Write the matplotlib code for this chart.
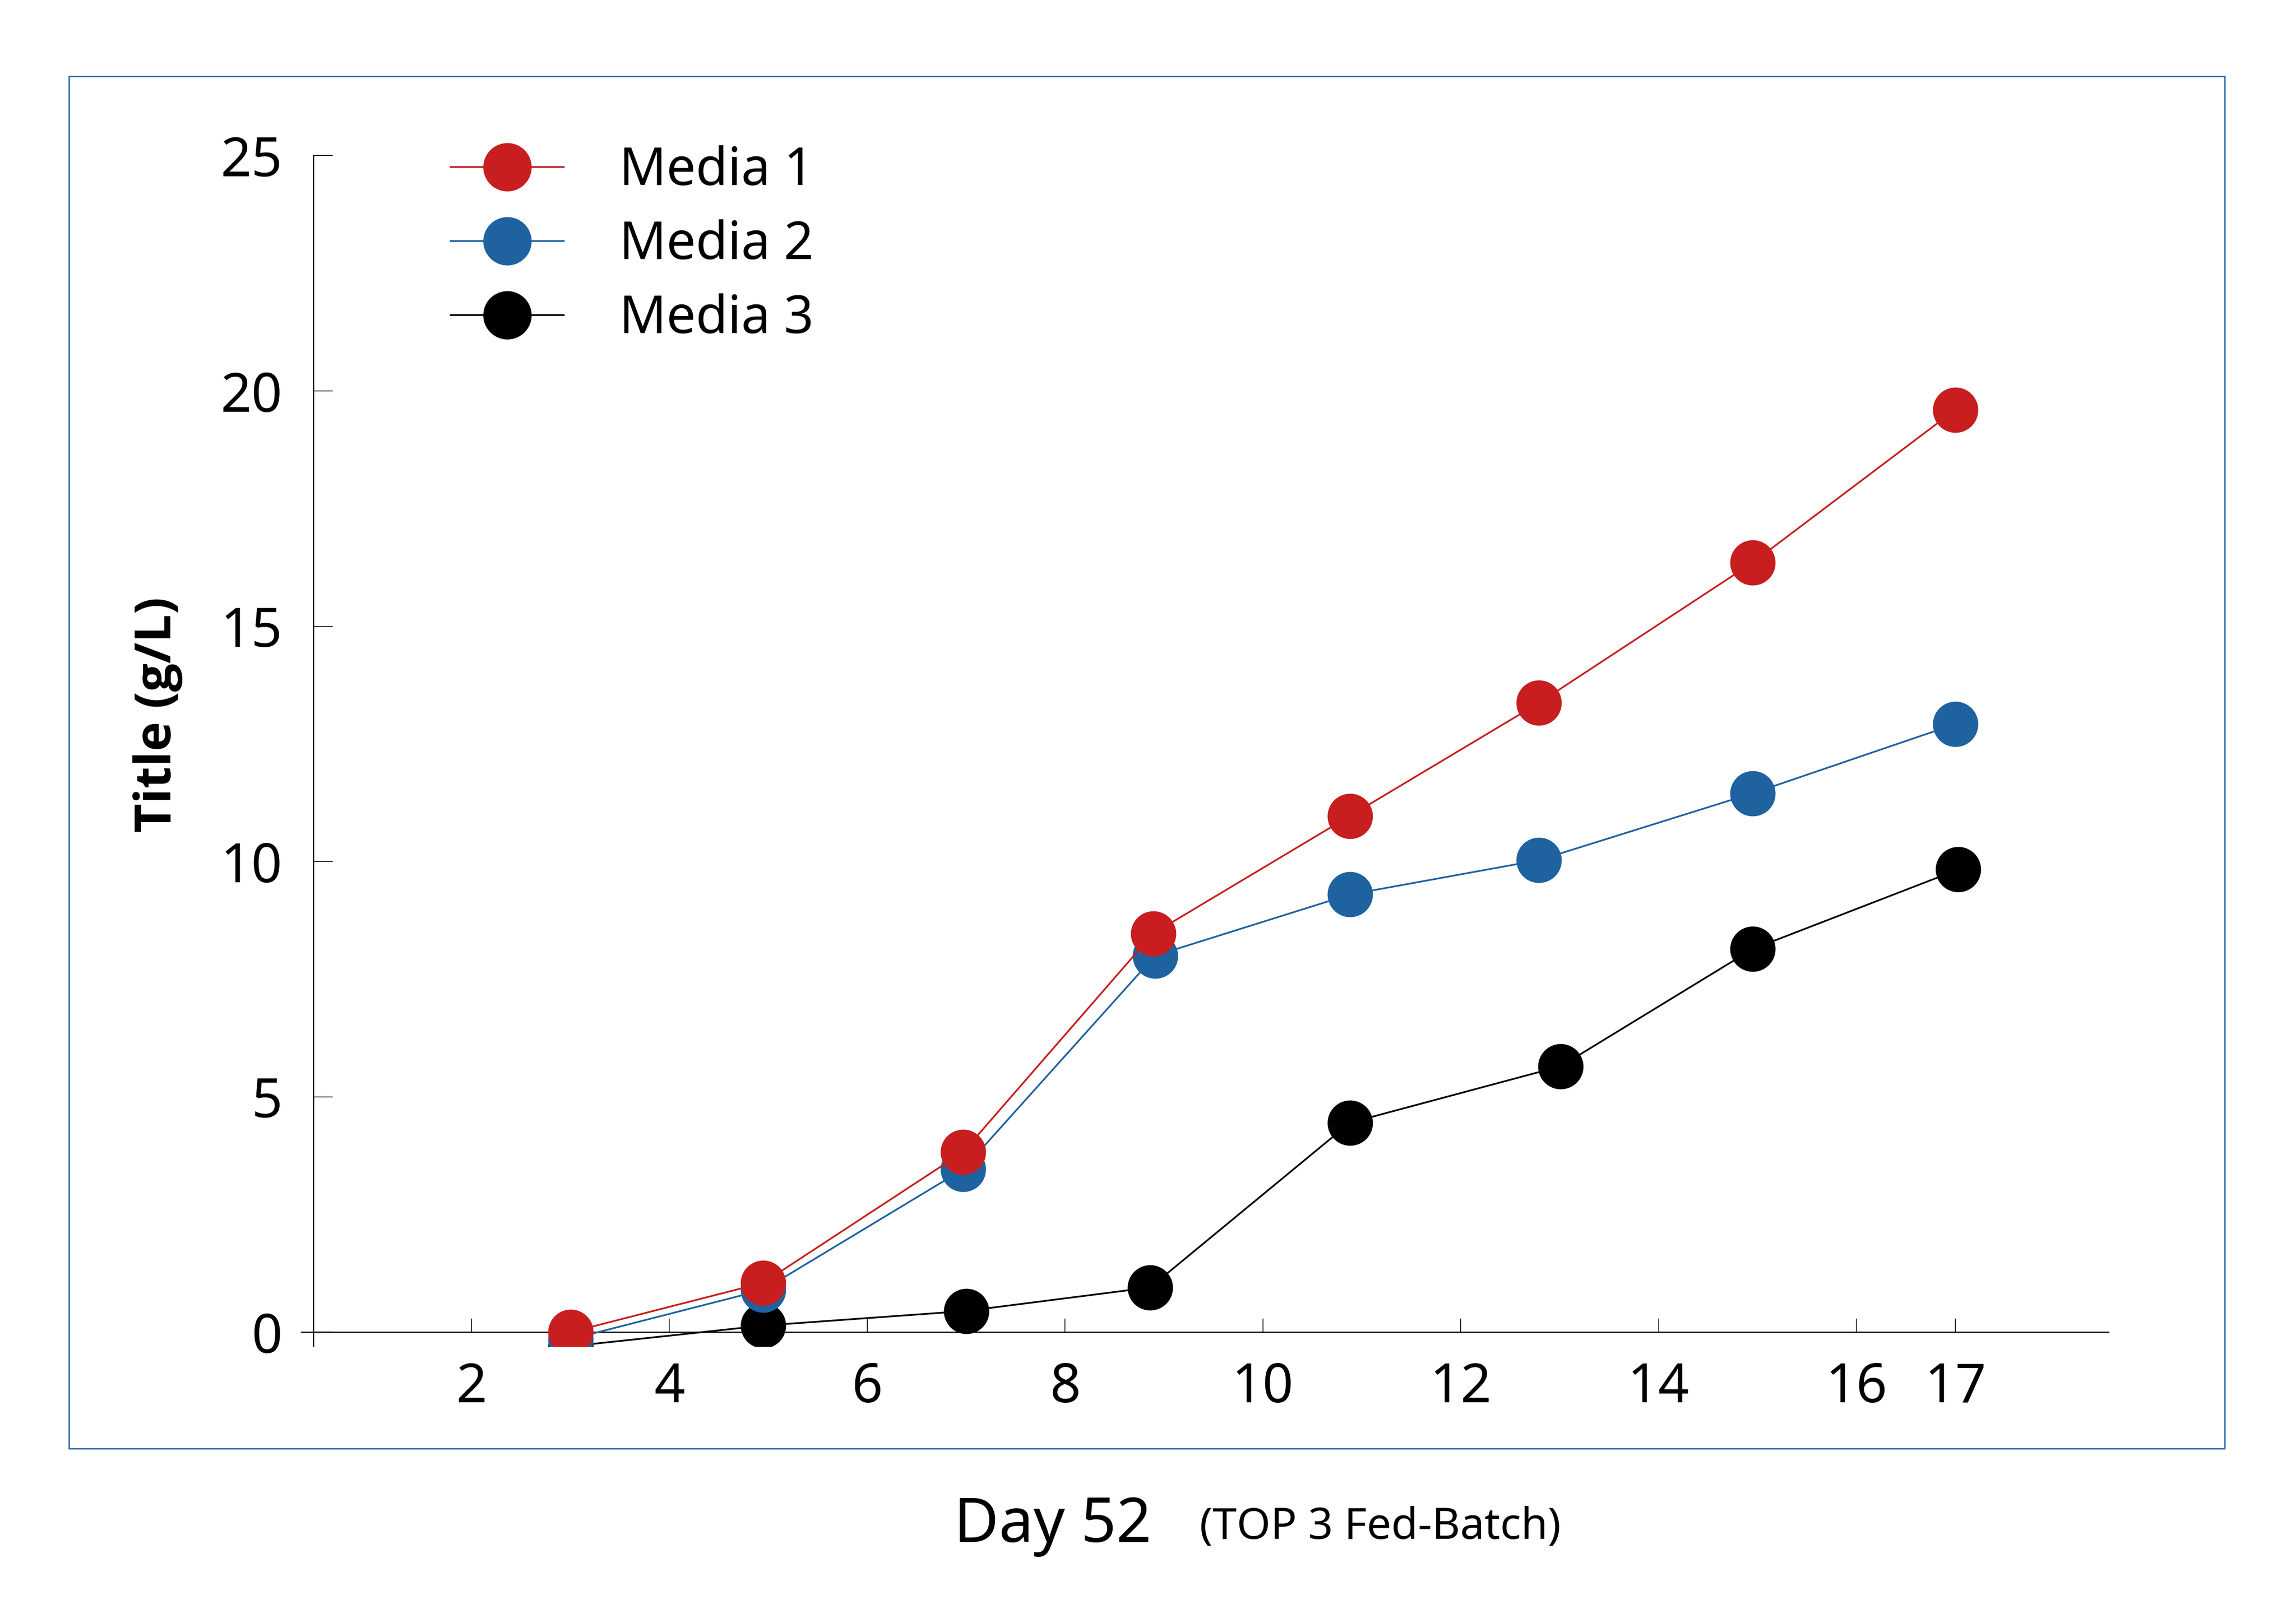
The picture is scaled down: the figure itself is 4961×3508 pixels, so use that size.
import matplotlib
matplotlib.use('Agg')
import matplotlib.pyplot as plt
from matplotlib.patches import Rectangle

plt.rcParams['font.family'] = ['Noto Sans', 'DejaVu Sans']

# data
days_1 = [3.0, 4.95, 6.97, 8.89, 10.88, 12.79, 14.95, 17.0]
media_1 = [0.0, 1.05, 3.83, 8.47, 10.97, 13.37, 16.35, 19.6]
days_2 = [3.0, 4.95, 6.97, 8.91, 10.88, 12.79, 14.95, 17.0]
media_2 = [-0.15, 0.9, 3.46, 8.0, 9.3, 10.03, 11.45, 12.92]
days_3 = [3.0, 4.95, 7.0, 8.86, 10.88, 13.01, 14.95, 17.03]
media_3 = [-0.3, 0.14, 0.45, 0.95, 4.45, 5.65, 8.14, 9.83]

x_ticks = [2, 4, 6, 8, 10, 12, 14, 16, 17]
y_ticks = [0, 5, 10, 15, 20, 25]

red = '#c81e1f'
blue = '#1f62a0'

fig = plt.figure(figsize=(4961 / 300, 3508 / 300), dpi=300)

# blue frame around the plot
fig.patches.append(Rectangle((0.030, 0.1075), 0.939, 0.8455, transform=fig.transFigure,
                             fill=False, edgecolor='#2a6aad', linewidth=0.7))

ax = fig.add_axes([0.1313, 0.1705, 0.7871, 0.7336])
ax.set_xlim(0.28, 18.55)
ax.set_ylim(-0.3, 25)

ax.plot(days_3, media_3, color='black', lw=0.9, marker='o', ms=22.5, label='Media 3', zorder=3)
ax.plot(days_2, media_2, color=blue, lw=0.9, marker='o', ms=22.5, label='Media 2', zorder=4)
ax.plot(days_1, media_1, color=red, lw=0.9, marker='o', ms=22.5, label='Media 1', zorder=5)

ax.spines['top'].set_visible(False)
ax.spines['right'].set_visible(False)
ax.spines['left'].set_position(('data', 0.40))
ax.spines['bottom'].set_position(('data', 0))
for s in ['left', 'bottom']:
    ax.spines[s].set_linewidth(0.6)

ax.set_xticks(x_ticks)
ax.set_xticklabels([str(t) for t in x_ticks])
ax.set_yticks(y_ticks)
ax.tick_params(axis='x', direction='in', length=7, width=0.4, pad=15, labelsize=28)
ax.tick_params(axis='y', direction='in', length=10, width=0.4, pad=16, labelsize=28)

h, l = ax.get_legend_handles_labels()
leg = ax.legend(h[::-1], l[::-1], loc='upper left', bbox_to_anchor=(0.1963, 0.9105),
                bbox_transform=fig.transFigure, frameon=False, fontsize=27,
                borderpad=0, borderaxespad=0, handlelength=2.17, handletextpad=1.07,
                labelspacing=0.42, markerscale=1.07)

fig.text(0.0688, 0.5596, 'Title (g/L)', rotation=90, ha='center', va='center',
         fontsize=26, fontweight='bold', family=['Open Sans', 'Noto Sans', 'DejaVu Sans'])
fig.text(0.4154, 0.0499, 'Day 52', ha='left', va='baseline', fontsize=32)
fig.text(0.5225, 0.0519, '(TOP 3 Fed-Batch)', ha='left', va='baseline', fontsize=22.5)

fig.savefig('out.png', dpi=300)
